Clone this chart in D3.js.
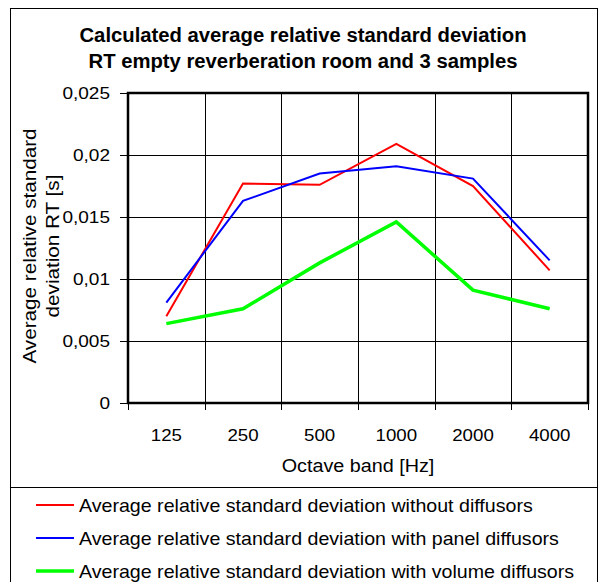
<!DOCTYPE html>
<html>
<head>
<meta charset="utf-8">
<script src="https://cdn.jsdelivr.net/npm/d3@7"></script>
<style>
  body { margin: 0; background: #fff; }
  text { font-family: "Liberation Sans", Arial, sans-serif; fill: #000; }
</style>
</head>
<body>
<div id="chart"></div>
<script>
// octave bands and the three series
const bands = ["125", "250", "500", "1000", "2000", "4000"];
const without_diffusors = [0.0070, 0.0177, 0.0176, 0.0209, 0.0175, 0.0107];
const panel_diffusors = [0.0081, 0.0163, 0.0185, 0.0191, 0.0181, 0.0115];
const volume_diffusors = [0.0064, 0.0076, 0.0113, 0.0146, 0.0091, 0.0076];
const y_ticks = [0, 0.005, 0.01, 0.015, 0.02, 0.025];
const series_names = [
    "Average relative standard deviation without diffusors",
    "Average relative standard deviation with panel diffusors",
    "Average relative standard deviation with volume diffusors",
];

const series = [
    { name: series_names[0], values: without_diffusors, color: "#ff0000", width: 2 },
    { name: series_names[1], values: panel_diffusors, color: "#0000ff", width: 2 },
    { name: series_names[2], values: volume_diffusors, color: "#00ff00", width: 3.5 },
];

const width = 601, height = 582;
const margin = { top: 93, right: 13, bottom: 179, left: 128 };
const plot_width = width - margin.left - margin.right;
const plot_height = height - margin.top - margin.bottom;

const svg = d3.select("#chart")
    .append("svg")
    .attr("width", width)
    .attr("height", height);

// helper: place a label, a bit wider than Arial like the original renderer
function label(parent, x, y, txt, size, stretch, anchor, bold) {
    return parent.append("text")
        .attr("transform", "translate(" + x + "," + y + ") scale(" + stretch + ",1)")
        .attr("text-anchor", anchor)
        .style("font-size", size + "px")
        .style("font-weight", bold ? "bold" : "normal")
        .text(txt);
}

// outer frame
svg.append("rect")
    .attr("x", 10.5).attr("y", 8.5)
    .attr("width", 587).attr("height", 590)
    .attr("fill", "none").attr("stroke", "#000").attr("stroke-width", 1);

// title
label(svg, 303, 42, "Calculated average relative standard deviation", 19.5, 1.04, "middle", true);
label(svg, 303, 68, "RT empty reverberation room and 3 samples", 19.5, 1.04, "middle", true);

const g = svg.append("g")
    .attr("transform", "translate(" + margin.left + "," + margin.top + ")");

const x = d3.scaleBand()
    .domain(bands)
    .range([0, plot_width]);

const y = d3.scaleLinear()
    .domain([0, 0.025])
    .range([plot_height, 0]);

// grid lines
g.selectAll("hgrid")
    .data(y_ticks.slice(1))
    .enter()
    .append("line")
    .attr("x1", 0).attr("x2", plot_width)
    .attr("y1", d => Math.round(y(d)) + 0.5)
    .attr("y2", d => Math.round(y(d)) + 0.5)
    .attr("stroke", "#000").attr("stroke-width", 1);
g.selectAll("vgrid")
    .data(bands.slice(1))
    .enter()
    .append("line")
    .attr("x1", d => Math.round(x(d)) + 0.5)
    .attr("x2", d => Math.round(x(d)) + 0.5)
    .attr("y1", 0).attr("y2", plot_height)
    .attr("stroke", "#000").attr("stroke-width", 1);

// axes
const fmt = d => d === 0 ? "0" : String(d).replace(".", ",");
const yAxis = g.append("g")
    .call(d3.axisLeft(y).tickValues(y_ticks).tickFormat(fmt).tickSize(8).tickPadding(0));
yAxis.select(".domain").remove();
yAxis.selectAll("text")
    .attr("x", null)
    .attr("transform", "translate(-18,0) scale(1.12,1)")
    .style("font-size", "17px");

g.selectAll("xticks")
    .data(bands.concat(["end"]))
    .enter()
    .append("line")
    .attr("x1", (d, i) => Math.round(i * x.step()) + 0.5)
    .attr("x2", (d, i) => Math.round(i * x.step()) + 0.5)
    .attr("y1", plot_height).attr("y2", plot_height + 7)
    .attr("stroke", "#000");
bands.forEach(b => label(g, x(b) + x.bandwidth() / 2, plot_height + 38, b, 17, 1.1, "middle", false));

// plot frame
g.append("rect")
    .attr("x", 0).attr("y", 0)
    .attr("width", plot_width).attr("height", plot_height)
    .attr("fill", "none").attr("stroke", "#000").attr("stroke-width", 2.5);

// axis titles
label(g, plot_width / 2, plot_height + 69, "Octave band [Hz]", 17.5, 1.13, "middle", false);
const ylab = svg.append("text")
    .attr("transform", "translate(36,246) rotate(-90) scale(1.15,1)")
    .attr("text-anchor", "middle")
    .style("font-size", "18px");
ylab.append("tspan").attr("x", 0).attr("dy", 0).text("Average relative standard");
ylab.append("tspan").attr("x", 0).attr("dy", 23).text("deviation RT [s]");

// series lines
const line = d3.line()
    .x((d, i) => x(bands[i]) + x.bandwidth() / 2)
    .y(d => y(d));
g.selectAll("series")
    .data(series)
    .enter()
    .append("path")
    .attr("d", d => line(d.values))
    .attr("fill", "none")
    .attr("stroke", d => d.color)
    .attr("stroke-width", d => d.width);

// legend
svg.append("line")
    .attr("x1", 10).attr("x2", 598)
    .attr("y1", 487.5).attr("y2", 487.5)
    .attr("stroke", "#000");
const legend = svg.selectAll("legend")
    .data(series)
    .enter()
    .append("g")
    .attr("transform", (d, i) => "translate(36," + (505 + i * 33) + ")");
legend.append("line")
    .attr("x1", 0).attr("x2", 38)
    .attr("y1", 0).attr("y2", 0)
    .attr("stroke", d => d.color)
    .attr("stroke-width", d => d.width);
legend.append("text")
    .attr("transform", "translate(43,7) scale(1.09,1)")
    .style("font-size", "18px")
    .text(d => d.name);
</script>
</body>
</html>
